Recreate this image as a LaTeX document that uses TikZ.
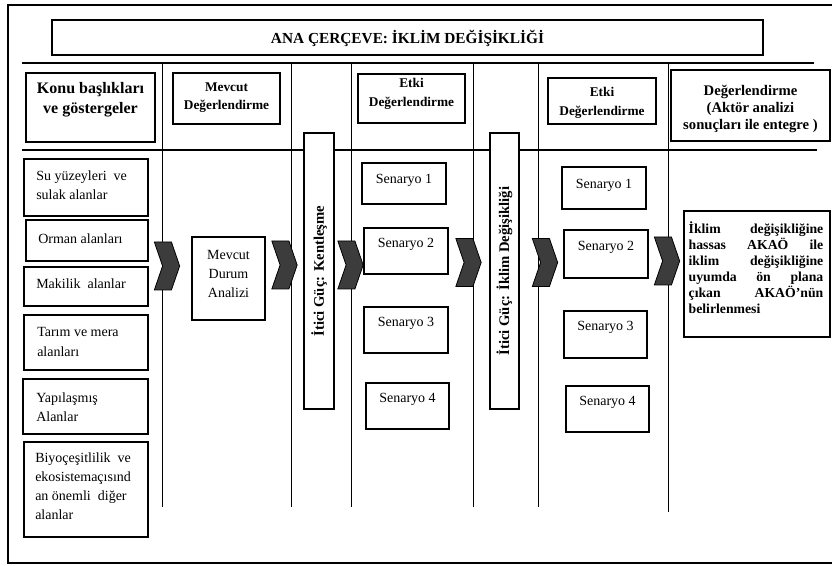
\documentclass[tikz,border=0pt]{standalone}
\usepackage{fontspec}
\setmainfont{Liberation Serif}
\usetikzlibrary{shapes.symbols,fit}
\definecolor{chevgray}{HTML}{3C3C3C}
\begin{document}
\begin{tikzpicture}[x=0.75pt,y=-0.75pt,
  box/.style={draw, line width=0.9pt, inner sep=0pt},
  hline/.style={line width=1.1pt},
  vline/.style={line width=0.7pt},
  ttl/.style={font=\bfseries\fontsize{11.5}{14}\selectfont, inner sep=0pt},
  hbig/.style={font=\bfseries\fontsize{12}{15}\selectfont, align=center, inner sep=0pt},
  hmid/.style={font=\bfseries\fontsize{11}{12.5}\selectfont, align=center, inner sep=0pt},
  hsm/.style={font=\bfseries\fontsize{10}{14}\selectfont, align=center, inner sep=0pt},
  item/.style={font=\fontsize{10.5}{14.3}\selectfont, align=left, inner sep=0pt, anchor=west},
  plain/.style={font=\fontsize{10.5}{14.6}\selectfont, align=center, inner sep=0pt},
  rot/.style={font=\bfseries\fontsize{11}{13}\selectfont, inner sep=0pt, rotate=90},
  res/.style={font=\bfseries\fontsize{10.3}{12}\selectfont, align=left, inner sep=0pt},
  chev/.style={signal, signal from=west, signal to=east, signal pointer angle=142,
    draw, line width=0.6pt, fill=chevgray, inner sep=0pt,
    minimum width=19pt, minimum height=36pt}
]
\useasboundingbox (0,0) rectangle (832,566);

% outer frame (open on the right)
\draw[line width=2pt] (832,5) -- (8,5) -- (8,563) -- (832,563);

% title
\node[box, fit={(52,20) (763,55)}] (title) {};
\node[ttl] (titleT) at (407.5,38) {ANA ÇERÇEVE: İKLİM DEĞİŞİKLİĞİ};

% grid lines
\draw[hline] (22,63) -- (814,63);
\draw[hline] (22,150) -- (817,150);
\foreach \xx in {162,291,351,473,538} \draw[vline] (\xx,63) -- (\xx,507);
\draw[vline] (668,63) -- (668,512);

% column headers
\node[box, fit={(26,73) (155,142)}] (hKonu) {};
\node[hbig] (hKonuT) at (90.5,100) {Konu başlıkları\\ve göstergeler};
\node[box, fit={(173,73) (280,124)}] (hMevcut) {};
\node[hsm] (hMevcutT) at (226.5,97.5) {Mevcut\\Değerlendirme};
\node[box, fit={(358,74) (465,123)}] (hEtkiA) {};
\node[hsm] (hEtkiAT) at (411.5,94) {Etki\\Değerlendirme};
\node[box, fit={(548,78) (656,124)}] (hEtkiB) {};
\node[hsm] (hEtkiBT) at (602,103) {Etki\\Değerlendirme};
\node[box, line width=1.2pt, fit={(671,70) (830,141)}] (hDeg) {};
\node[hmid] (hDegT) at (750.5,109) {Değerlendirme\\(Aktör analizi\\sonuçları ile entegre )};

% topic boxes
\node[box, fit={(24,159) (148,216)}] (tSu) {};
\node[item] (tSuT) at (36,185) {Su yüzeyleri\ \ ve\\sulak\ alanlar};
\node[box, fit={(26,220) (148,261)}] (tOrman) {};
\node[item] (tOrmanT) at (38,239) {Orman\ alanları};
\node[box, fit={(24,267) (148,306)}] (tMaki) {};
\node[item] (tMakiT) at (36,284) {Makilik\ \ alanlar};
\node[box, fit={(24,315) (148,370)}] (tTarim) {};
\node[item] (tTarimT) at (37,342) {Tarım ve mera\\alanları};
\node[box, fit={(23,379) (148,434)}] (tYapi) {};
\node[item] (tYapiT) at (36,407) {Yapılaşmış\\Alanlar};
\node[box, fit={(24,442) (148,537)}] (tBiyo) {};
\node[item] (tBiyoT) at (35,486) {Biyoçeşitlilik\ \ ve\\ekosistemaçısınd\\an önemli\ \ diğer\\alanlar};

% current state analysis
\node[box, fit={(192,237) (265,320)}] (mda) {};
\node[plain] (mdaT) at (228.5,274) {Mevcut\\Durum\\Analizi};

% driving forces
\node[box, fill=white, fit={(304,133) (334,409)}] (dfK) {};
\node[rot] (dfKT) at (319,271) {İtici Güç: Kentleşme};
\node[box, fill=white, fit={(490,133) (519,409)}] (dfI) {};
\node[rot] (dfIT) at (504.5,271) {İtici Güç: İklim Değişikliği};

% scenarios, first impact column
\node[box, fit={(362,163) (446,204)}] (sA1) {};
\node[plain] (sA1T) at (404,180) {Senaryo 1};
\node[box, fit={(364,228) (448,274)}] (sA2) {};
\node[plain] (sA2T) at (406,244) {Senaryo 2};
\node[box, fit={(364,307) (448,353)}] (sA3) {};
\node[plain] (sA3T) at (406,323) {Senaryo 3};
\node[box, fit={(366,383) (449,429)}] (sA4) {};
\node[plain] (sA4T) at (407.5,399) {Senaryo 4};

% scenarios, second impact column
\node[box, fit={(562,167) (646,209)}] (sB1) {};
\node[plain] (sB1T) at (604,185) {Senaryo 1};
\node[box, fit={(564,230) (648,278)}] (sB2) {};
\node[plain] (sB2T) at (606,247) {Senaryo 2};
\node[box, fit={(564,311) (647,358)}] (sB3) {};
\node[plain] (sB3T) at (605.5,327) {Senaryo 3};
\node[box, fit={(566,386) (649,432)}] (sB4) {};
\node[plain] (sB4T) at (607.5,402) {Senaryo 4};

% result
\node[box, fit={(684,211) (830,337)}] (result) {};
\node[res] (resultT) at (756,267.5) {%
  \makebox[101pt]{İklim\hfill değişikliğine}\\
  \makebox[101pt]{hassas\hfill AKAÖ\hfill ile}\\
  \makebox[101pt]{iklim\hfill değişikliğine}\\
  \makebox[101pt]{uyumda\hfill ön\hfill plana}\\
  \makebox[101pt]{çıkan\hfill AKAÖ’nün}\\
  \makebox[101pt][l]{belirlenmesi}};

% flow chevrons
\node[chev] (c1) at (167,266) {};
\node[chev] (c2) at (284.5,265) {};
\node[chev] (c3) at (350.5,265) {};
\node[chev] (c4) at (468.5,262.5) {};
\node[chev] (c5) at (545,262.5) {};
\node[chev] (c6) at (667,261) {};
\end{tikzpicture}
\end{document}
